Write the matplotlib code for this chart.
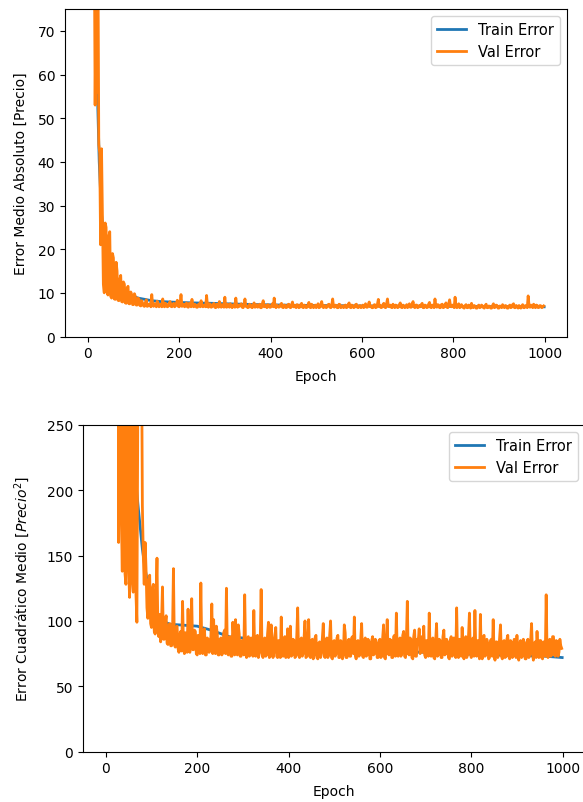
import numpy as np
import matplotlib
matplotlib.use("Agg")
import matplotlib.pyplot as plt

# ---- data ----
train_epochs = [0, 5, 10, 15, 20, 25, 30, 40, 50, 60, 70, 80, 86, 90, 95, 100, 105, 110,
                120, 130, 140, 160, 200, 230, 273, 300, 354, 400, 450, 507, 560, 601,
                700, 800, 900, 963, 999]
train_mae = [560, 380, 220, 120, 60, 40, 28, 18, 14.5, 12.5, 11.2, 10.3, 9.9, 9.6, 9.4,
             9.2, 9.0, 8.8, 8.6, 8.4, 8.2, 8.0, 7.8, 7.7, 7.6, 7.5, 7.35, 7.25, 7.15, 7.1,
             7.05, 7.0, 6.95, 6.9, 6.85, 6.85, 6.8]
train_mse = [330000, 150000, 50000, 9000, 2500, 900, 550, 380, 290, 230, 190, 155, 140,
             132, 124, 118, 112, 107, 102, 99, 97.5, 97, 96, 93, 87.6, 87, 84.8, 83.5,
             82.5, 82, 80, 77, 76, 74.5, 73.5, 73, 72]

val_epochs = np.arange(0, 1000, 2)
val_mae = [
    560, 500, 430, 360, 290, 210, 150, 95, 53, 78, 56, 92, 44, 42, 21, 43, 27, 12, 10, 26,
    25, 11, 9.5, 23, 24, 9.2, 8.8, 19, 18, 8.6, 8.5, 17, 15, 8.3, 8.2, 13, 14, 8.0, 7.9, 12.5,
    12, 7.7, 7.6, 11, 11.5, 7.5, 7.5, 10.2, 9.6, 7.3, 7.3, 9.8, 9.2, 7.2, 7.2, 8.8, 8.6, 7.1, 7.0, 8.2,
    7.6, 7.0, 6.9, 7.8, 8.4, 6.9, 7.0, 7.4, 7.5, 6.8, 9.6, 7.1, 6.9, 7.5, 7.3, 6.8, 8.1, 7.2, 6.8, 7.4,
    7.2, 6.8, 8.6, 7.0, 6.8, 7.6, 7.4, 6.8, 6.9, 7.5, 8.0, 6.9, 6.8, 7.3, 7.6, 6.8, 7.0, 7.7, 8.3, 6.9,
    6.8, 7.5, 9.6, 6.9, 7.0, 7.4, 6.8, 7.1, 7.7, 6.8, 6.7, 7.6, 7.3, 6.8, 8.5, 7.0, 6.8, 7.4, 7.2, 6.7,
    6.7, 7.3, 7.5, 6.8, 8.2, 7.0, 6.8, 7.2, 7.0, 6.8, 9.4, 6.9, 6.7, 7.5, 7.4, 6.7, 6.8, 7.2, 7.6, 6.7,
    6.6, 7.4, 7.2, 6.7, 8.0, 7.1, 6.7, 7.3, 7.0, 6.7, 9.0, 6.8, 6.7, 7.4, 7.1, 6.7, 7.5, 7.0, 6.6, 7.2,
    7.3, 6.7, 8.8, 7.0, 6.7, 7.2, 6.9, 7.3, 7.5, 6.7, 6.6, 7.1, 8.6, 6.9, 7.0, 6.6, 6.7, 7.4, 7.3, 6.7,
    6.6, 7.2, 7.7, 6.7, 6.8, 7.3, 6.7, 7.0, 7.4, 6.6, 6.6, 7.5, 8.2, 6.8, 6.9, 7.1, 6.6, 7.3, 7.2, 6.7,
    6.7, 7.1, 7.5, 6.8, 8.8, 6.9, 6.6, 7.2, 7.0, 6.7, 6.8, 7.3, 7.6, 6.7, 6.6, 7.2, 7.1, 6.6, 6.7, 7.3,
    7.4, 6.7, 6.6, 7.2, 7.9, 6.8, 6.8, 7.1, 6.6, 7.3, 7.2, 6.6, 6.7, 7.3, 7.6, 6.7, 6.6, 7.2, 7.0, 6.6,
    6.7, 7.3, 7.8, 6.7, 6.6, 7.4, 7.1, 6.6, 6.8, 7.2, 6.6, 7.0, 7.5, 6.6, 6.7, 7.3, 8.0, 6.8, 6.6, 7.1,
    7.0, 6.6, 6.8, 7.3, 7.4, 6.7, 6.6, 7.2, 8.6, 6.8, 6.7, 7.2, 7.1, 6.6, 6.6, 7.4, 7.3, 6.6, 6.8, 7.0,
    6.6, 7.1, 7.2, 6.6, 6.7, 7.3, 7.7, 6.7, 6.6, 7.2, 7.0, 6.6, 6.7, 7.3, 7.4, 6.7, 6.6, 7.0, 7.1, 6.6,
    6.8, 7.2, 6.6, 7.0, 7.5, 6.7, 6.7, 7.3, 7.9, 6.8, 7.0, 6.6, 6.6, 7.2, 7.3, 6.6, 6.7, 7.4, 8.5, 6.8,
    7.1, 6.6, 6.7, 7.3, 7.6, 6.7, 6.6, 7.5, 8.6, 6.9, 6.8, 7.2, 6.7, 6.6, 7.4, 7.0, 6.6, 7.2, 7.1, 6.6,
    6.7, 7.3, 7.7, 6.7, 6.6, 7.2, 7.0, 6.6, 6.8, 7.3, 6.6, 7.1, 7.5, 6.7, 6.7, 7.4, 8.0, 6.8, 6.6, 7.2,
    7.2, 6.6, 6.7, 7.1, 6.8, 7.3, 7.6, 6.6, 6.6, 7.2, 7.1, 6.6, 6.7, 7.4, 7.8, 6.7, 6.6, 7.2, 7.0, 6.6,
    8.6, 6.9, 6.7, 7.3, 7.2, 6.6, 6.6, 7.3, 7.4, 6.6, 6.7, 7.2, 7.7, 6.7, 6.6, 7.5, 8.4, 6.9, 6.8, 7.2,
    7.1, 6.6, 9.0, 6.8, 6.6, 7.2, 7.5, 6.6, 6.7, 7.3, 7.0, 6.6, 6.5, 7.1, 7.3, 6.6, 6.6, 7.2, 6.9, 6.5,
    7.6, 6.7, 6.6, 7.1, 6.9, 6.5, 6.5, 7.0, 7.2, 6.6, 6.7, 7.2, 7.0, 6.6, 6.5, 7.1, 7.4, 6.6, 6.6, 7.0,
    6.9, 6.5, 6.5, 7.1, 7.5, 6.6, 6.7, 7.2, 7.1, 6.5, 6.5, 7.0, 6.9, 6.6, 7.3, 6.8, 6.6, 7.1, 7.0, 6.5,
    6.5, 7.0, 7.2, 6.6, 6.7, 7.3, 7.5, 6.6, 6.6, 7.1, 6.9, 6.5, 7.1, 6.7, 6.5, 7.0, 7.3, 6.6, 6.6, 7.1,
    7.0, 6.6, 9.3, 7.0, 6.7, 7.2, 6.9, 6.6, 7.4, 6.8, 6.6, 7.2, 7.1, 6.6, 6.7, 7.1, 7.0, 6.6, 6.8, 7.0,
]
val_mse = [
    320000, 250000, 190000, 140000, 90000, 50000, 24000, 9000, 3200, 5000, 6500, 3000, 1800, 600, 160, 290, 410, 180, 138, 260,
    330, 136, 128, 300, 290, 140, 118, 270, 350, 130, 122, 300, 265, 120, 99, 260, 310, 380, 280, 320,
    188, 150, 128, 160, 140, 110, 102, 130, 135, 98, 95, 125, 128, 92, 90, 120, 148, 92, 88, 105,
    84, 100, 126, 86, 86, 98, 104, 83, 82, 96, 98, 81, 81, 92, 140, 82, 80, 95, 96, 79,
    76, 90, 92, 77, 115, 80, 75, 91, 90, 76, 109, 79, 76, 88, 117, 78, 78, 93, 92, 75,
    74, 89, 88, 75, 129, 80, 75, 90, 94, 74, 74, 87, 86, 76, 77, 89, 113, 75, 101, 76,
    75, 96, 90, 74, 74, 86, 87, 74, 76, 91, 93, 75, 125, 78, 74, 87, 88, 73, 73, 99,
    86, 74, 101, 75, 74, 97, 90, 73, 73, 85, 85, 74, 120, 77, 72, 86, 88, 73, 74, 87,
    84, 73, 108, 76, 73, 88, 89, 72, 75, 85, 124, 76, 72, 86, 87, 73, 74, 90, 99, 72,
    73, 97, 86, 72, 76, 88, 95, 73, 72, 85, 84, 72, 103, 76, 73, 86, 88, 72, 75, 94,
    72, 85, 96, 73, 74, 86, 85, 72, 73, 89, 110, 74, 72, 85, 87, 73, 75, 88, 100, 72,
    73, 86, 101, 73, 72, 85, 86, 71, 74, 87, 89, 72, 71, 83, 84, 72, 76, 87, 98, 73,
    72, 86, 87, 72, 74, 89, 100, 72, 71, 84, 85, 73, 75, 87, 89, 72, 72, 85, 84, 71,
    74, 97, 91, 72, 72, 84, 86, 73, 73, 87, 88, 75, 103, 74, 71, 84, 85, 73, 74, 86,
    98, 73, 72, 85, 87, 73, 74, 86, 84, 71, 71, 85, 88, 74, 75, 86, 83, 72, 72, 85,
    86, 72, 73, 87, 97, 72, 71, 84, 101, 75, 74, 86, 85, 72, 72, 88, 89, 73, 106, 76,
    73, 86, 87, 73, 75, 89, 92, 73, 72, 86, 115, 75, 74, 87, 86, 72, 71, 88, 93, 73,
    73, 86, 85, 94, 75, 87, 88, 76, 96, 74, 72, 85, 84, 73, 106, 76, 73, 86, 87, 72,
    71, 84, 98, 73, 74, 86, 85, 72, 72, 88, 93, 74, 75, 86, 84, 72, 71, 85, 88, 73,
    74, 87, 86, 72, 110, 75, 72, 86, 85, 73, 95, 76, 71, 84, 88, 72, 74, 89, 106, 75,
    72, 86, 87, 73, 108, 76, 73, 85, 84, 71, 105, 74, 71, 87, 89, 73, 74, 86, 83, 71,
    72, 85, 86, 73, 101, 74, 70, 84, 84, 72, 75, 87, 97, 73, 71, 84, 85, 72, 73, 86,
    89, 73, 71, 85, 84, 72, 74, 86, 82, 72, 89, 74, 70, 83, 85, 72, 73, 86, 83, 71,
    71, 84, 86, 72, 74, 85, 98, 75, 70, 83, 84, 72, 92, 75, 72, 85, 85, 72, 71, 84,
    83, 73, 120, 76, 72, 85, 86, 73, 74, 88, 88, 74, 73, 85, 84, 73, 76, 86, 81, 79,
]
assert len(val_mae) == len(val_epochs) and len(val_mse) == len(val_epochs)

LW = 2.0
fig = plt.figure(figsize=(5.83, 8.03), dpi=100)

ax1 = fig.add_axes([0.1115, 0.5797, 0.861, 0.4078])
ax1.plot(train_epochs, train_mae, label='Train Error', lw=LW)
ax1.plot(val_epochs, val_mae, label='Val Error', lw=LW)
ax1.set_ylim(0, 75)
ax1.set_xlabel('Epoch', labelpad=6.5)
ax1.set_ylabel('Error Medio Absoluto [Precio]')
ax1.yaxis.set_label_coords(-0.0737, 0.5)
ax1.legend(loc='upper right', fontsize=10.5)

ax2 = fig.add_axes([0.1424, 0.0626, 0.861, 0.4072])
ax2.plot(train_epochs, train_mse, label='Train Error', lw=LW)
ax2.plot(val_epochs, val_mse, label='Val Error', lw=LW)
ax2.set_ylim(0, 250)
ax2.set_xlabel('Epoch', labelpad=6.5)
ax2.set_ylabel('Error Cuadrático Medio [$Precio^2$]')
ax2.yaxis.set_label_coords(-0.1026, 0.5)
ax2.legend(loc='upper right', fontsize=10.5)

fig.savefig('out.png', dpi=100)
